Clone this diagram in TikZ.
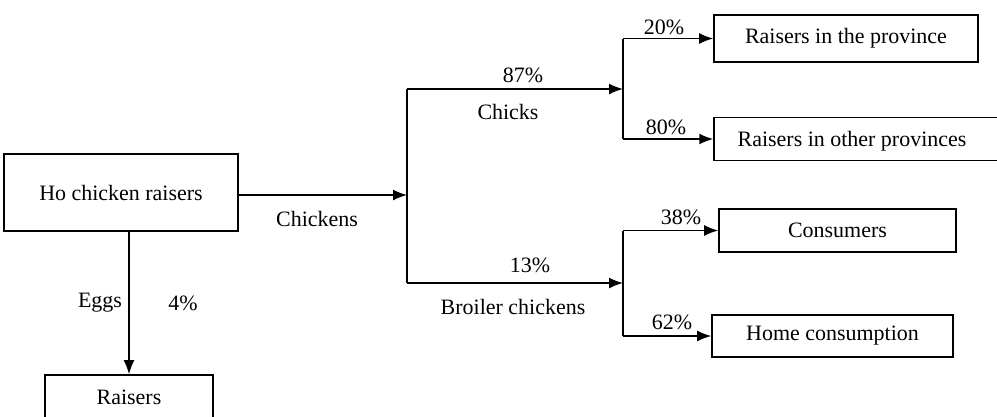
\documentclass[tikz,border=0pt]{standalone}
\usepackage{fontspec}
\setmainfont{Liberation Serif}
\usetikzlibrary{arrows.meta}

\tikzset{
  flowbox/.style={draw, line width=0.9pt, minimum width=#1, inner sep=0pt},
  flowline/.style={line width=0.9pt},
  flowarrow/.style={line width=0.9pt, -{Latex[length=2.8mm,width=2.2mm]}},
}

\begin{document}
\begin{tikzpicture}[x=0.02cm,y=-0.02cm,font=\fontsize{12.5}{14}\selectfont]
\useasboundingbox (0,0) rectangle (997,416);

% boxes
\node [flowbox=4.68cm, minimum height=1.54cm] (ho) at (121,192.5) {Ho chicken raisers};
\node [flowbox=3.36cm, minimum height=1cm] (raisers) at (129,400) {};
\node at (129,397) {Raisers};

\node [flowbox=5.28cm, minimum height=0.94cm] (prov)  at (846,38.5) {Raisers in the province};
\node [flowbox=5.72cm, minimum height=0.86cm] (other) at (857,139)  {};
\node at (852,141.5) {Raisers in other provinces};

\node [flowbox=4.74cm, minimum height=0.86cm] (cons) at (837.5,230.5) {Consumers};
\node [flowbox=4.82cm, minimum height=0.84cm] (home) at (832.5,336)   {Home consumption};

% junctions
\coordinate (split) at (407,195);
\coordinate (up)    at (407,89);
\coordinate (down)  at (407,283);
\coordinate (chk)   at (623,89);
\coordinate (brl)   at (623,283);

% connectors
\draw [flowarrow] (ho.east |- split) -- (split);
\draw [flowline] (up) -- (down);
\draw [flowarrow] (up) -- (chk);
\draw [flowarrow] (down) -- (brl);

\draw [flowline] (chk |- prov.west) -- (chk |- other.west);
\draw [flowarrow] (chk |- prov.west) -- (prov.west);
\draw [flowarrow] (chk |- other.west) -- (other.west);

\draw [flowline] (brl |- cons.west) -- (brl |- home.west);
\draw [flowarrow] (brl |- cons.west) -- (cons.west);
\draw [flowarrow] (brl |- home.west) -- (home.west);

\draw [flowarrow] (raisers.north |- ho.south) -- (raisers.north);

% labels
\node at (317,219) {Chickens};
\node at (523,75)  {87\%};
\node at (508,112) {Chicks};
\node at (530,265) {13\%};
\node at (513,307) {Broiler chickens};

\node at (664,27)  {20\%};
\node at (666,127) {80\%};
\node at (681,217) {38\%};
\node at (672,322) {62\%};

\node at (100,303) {Eggs};
\node at (183,303) {4\%};

\end{tikzpicture}
\end{document}
